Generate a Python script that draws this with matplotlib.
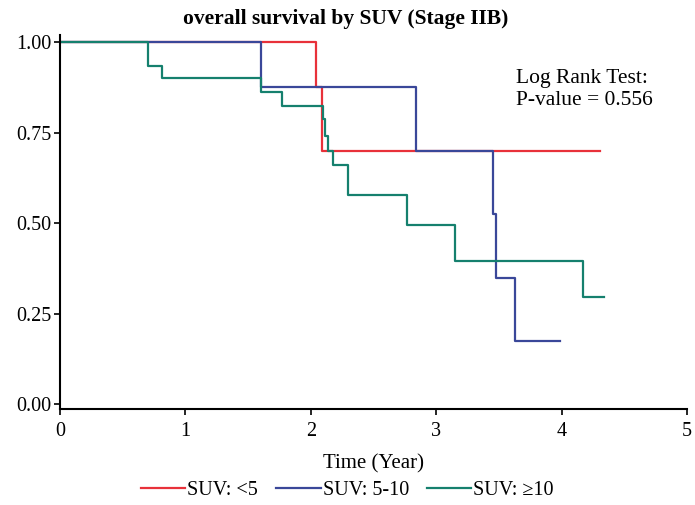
import matplotlib
matplotlib.use("Agg")
import matplotlib.pyplot as plt

plt.rcParams['font.family'] = ['Liberation Serif', 'DejaVu Serif']

# Data (time in years, survival probability)
red_t = [0, 2.04, 2.09, 4.31]
red_s = [1.0, 0.875, 0.70, 0.70]
blue_t = [0, 1.60, 2.84, 3.45, 3.48, 3.63, 3.99]
blue_s = [1.0, 0.875, 0.70, 0.525, 0.35, 0.175, 0.175]
green_t = [0, 0.70, 0.81, 1.60, 1.77, 2.10, 2.11, 2.14, 2.18, 2.30, 2.77, 3.15, 4.17, 4.34]
green_s = [1.0, 0.933, 0.90, 0.863, 0.825, 0.787, 0.74, 0.70, 0.66, 0.578, 0.495, 0.396, 0.297, 0.297]

labels = ["SUV: <5", "SUV: 5-10", "SUV: \u226510"]
colors = ["#e8313a", "#3a4799", "#15806e"]
xticks = [0, 1, 2, 3, 4, 5]
yticks = [0.0, 0.25, 0.5, 0.75, 1.0]

fig = plt.figure(figsize=(6.95, 5.05), dpi=100)
ax = fig.add_axes([60/695, 1-409/505, 627/695, (409-35)/505])

for t, s, c, l in zip([red_t, blue_t, green_t], [red_s, blue_s, green_s], colors, labels):
    ax.step(t, s, where='post', color=c, lw=1.6, label=l)

ax.set_xlim(0, 5)
ax.set_ylim(-0.013, 1.02)
ax.set_xticks(xticks)
ax.set_yticks(yticks)
ax.set_yticklabels([f"{v:.2f}" for v in yticks])
ax.tick_params(labelsize=14.5, direction='out', length=4, width=1.2)
ax.tick_params(axis='y', pad=2)
ax.tick_params(axis='x', pad=5)
for sp in ['top', 'right']:
    ax.spines[sp].set_visible(False)
for sp in ['left', 'bottom']:
    ax.spines[sp].set_linewidth(1.5)

ax.set_xlabel("Time (Year)", fontsize=15, labelpad=10)
fig.text(0.497, 0.962, "overall survival by SUV (Stage IIB)", ha='center', va='center',
         fontsize=15.5, fontweight='bold')
ax.text(3.64, 0.925, "Log Rank Test:\nP-value = 0.556", fontsize=15.5, ha='left', va='top',
        linespacing=1.2)

leg = fig.legend(loc='center', bbox_to_anchor=(0.5, 0.028), ncol=3, frameon=False,
                 fontsize=14.5, handlelength=2.2, handletextpad=0.1, columnspacing=0.9)

fig.savefig("out.png", dpi=100)
